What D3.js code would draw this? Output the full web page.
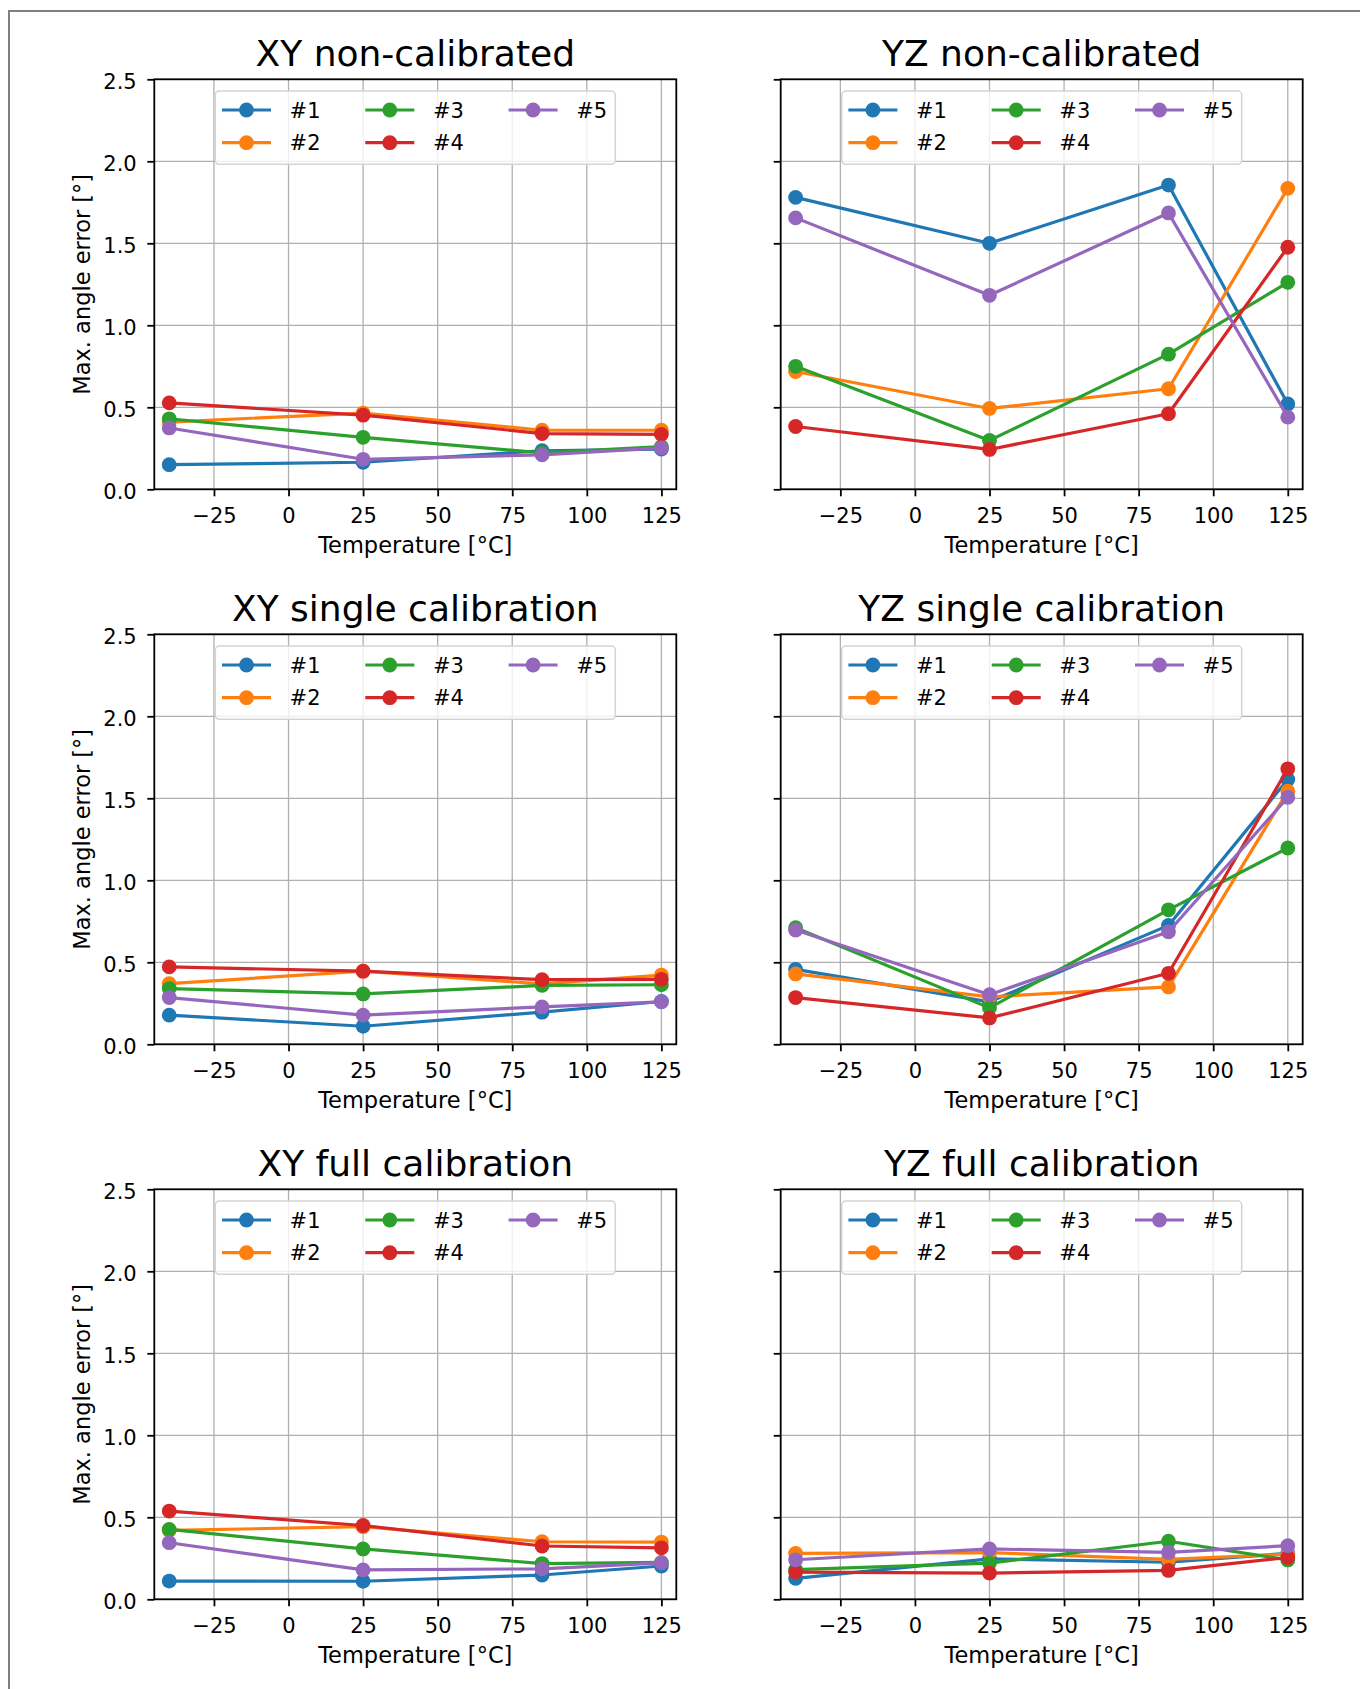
<!DOCTYPE html>
<html>
<head>
<meta charset="utf-8">
<script src="https://cdn.jsdelivr.net/npm/d3@7"></script>
<style>
  body { margin: 0; background: #fff; }
  svg { display: block; font-family: "DejaVu Sans", sans-serif; }
</style>
</head>
<body>
<div class="canvas"></div>
<script>
// temperatures measured and sensor names
const temps = [-40, 25, 85, 125];
const sensors = ["#1", "#2", "#3", "#4", "#5"];
const colors = ["#1f77b4", "#ff7f0e", "#2ca02c", "#d62728", "#9467bd"];
const xTicks = [-25, 0, 25, 50, 75, 100, 125];
const yTicks = [0, 0.5, 1.0, 1.5, 2.0, 2.5];
const titles = ["XY non-calibrated", "YZ non-calibrated", "XY single calibration",
  "YZ single calibration", "XY full calibration", "YZ full calibration"];

// max angle error per sensor (rows = #1..#5, cols = temps)
const xyNonCal = [
  [0.15, 0.165, 0.235, 0.245],
  [0.41, 0.465, 0.36, 0.36],
  [0.43, 0.317, 0.222, 0.26],
  [0.527, 0.452, 0.34, 0.335],
  [0.374, 0.183, 0.21, 0.252]
];
const yzNonCal = [
  [1.78, 1.50, 1.855, 0.52],
  [0.718, 0.493, 0.613, 1.835],
  [0.75, 0.298, 0.824, 1.262],
  [0.383, 0.243, 0.461, 1.476],
  [1.655, 1.183, 1.685, 0.44]
];
const xySingle = [
  [0.178, 0.11, 0.196, 0.261],
  [0.37, 0.446, 0.368, 0.422],
  [0.34, 0.307, 0.359, 0.363],
  [0.472, 0.446, 0.394, 0.396],
  [0.285, 0.178, 0.228, 0.259]
];
const yzSingle = [
  [0.457, 0.259, 0.725, 1.614],
  [0.429, 0.289, 0.350, 1.543],
  [0.711, 0.222, 0.82, 1.197],
  [0.285, 0.161, 0.433, 1.68],
  [0.697, 0.302, 0.686, 1.506]
];
const xyFull = [
  [0.111, 0.11, 0.148, 0.203],
  [0.42, 0.443, 0.351, 0.349],
  [0.426, 0.307, 0.218, 0.225],
  [0.538, 0.45, 0.325, 0.314],
  [0.345, 0.179, 0.186, 0.222]
];
const yzFull = [
  [0.128, 0.247, 0.226, 0.28],
  [0.28, 0.285, 0.243, 0.275],
  [0.181, 0.221, 0.354, 0.24],
  [0.166, 0.16, 0.176, 0.255],
  [0.241, 0.307, 0.286, 0.327]
];

const panelData = [xyNonCal, yzNonCal, xySingle, yzSingle, xyFull, yzFull];

var width = 1360,
   height = 1689;

var axW = 522, axH = 410;
var colX = [154.3, 780.7];
var rowY = [79.3, 634.3, 1189.3];
var font = '"DejaVu Sans", sans-serif';

const svg = d3.select('.canvas')
   .append('svg')
   .attr('width', width)
   .attr('height', height);

svg.append('rect').attr('width', width).attr('height', height).attr('fill', '#fff');

// outer frame (runs off the right and bottom edge)
svg.append('path')
   .attr('d', `M9,${height} V11 H${width}`)
   .attr('fill', 'none')
   .attr('stroke', '#808080')
   .attr('stroke-width', 2);

var x = d3.scaleLinear().domain([-45, 130]).range([0, axW]);
var y = d3.scaleLinear().domain([0, 2.5]).range([axH, 0]);

var line = d3.line()
   .x((d, i) => x(temps[i]))
   .y(d => y(d));

panelData.forEach((data, p) => {
   var col = p % 2, row = Math.floor(p / 2);
   var g = svg.append('g')
      .attr('transform', `translate(${colX[col]},${rowY[row]})`);

   // grid
   g.append('g').selectAll('line')
      .data(xTicks).enter().append('line')
         .attr('x1', d => x(d)).attr('x2', d => x(d))
         .attr('y1', 0).attr('y2', axH)
         .attr('stroke', '#b0b0b0').attr('stroke-width', 1.3);
   g.append('g').selectAll('line')
      .data(yTicks).enter().append('line')
         .attr('y1', d => y(d)).attr('y2', d => y(d))
         .attr('x1', 0).attr('x2', axW)
         .attr('stroke', '#b0b0b0').attr('stroke-width', 1.3);

   // series
   data.forEach((vals, s) => {
      var sg = g.append('g');
      sg.append('path')
         .attr('d', line(vals))
         .attr('fill', 'none')
         .attr('stroke', colors[s])
         .attr('stroke-width', 3.2)
         .attr('stroke-linejoin', 'round');
      sg.selectAll('circle')
         .data(vals).enter().append('circle')
            .attr('cx', (d, i) => x(temps[i]))
            .attr('cy', d => y(d))
            .attr('r', 7.4)
            .attr('fill', colors[s]);
   });

   // axes
   var xAxis = g.append('g')
      .attr('transform', `translate(0,${axH})`)
      .call(d3.axisBottom(x).tickValues(xTicks).tickSize(7).tickSizeOuter(0));
   xAxis.selectAll('text')
      .attr('y', 34).attr('dy', null);

   var yAxis = g.append('g')
      .call(d3.axisLeft(y).tickValues(yTicks).tickSize(7).tickSizeOuter(0)
         .tickFormat(d3.format('.1f')));
   yAxis.selectAll('text')
      .attr('x', -17.6).attr('y', 9.3).attr('dy', null);
   if (col === 1) yAxis.selectAll('text').remove();

   [xAxis, yAxis].forEach(a => {
      a.attr('font-family', font).attr('font-size', 21);
      a.selectAll('text').attr('fill', '#000');
      a.select('.domain').remove();
      a.selectAll('line').attr('stroke', '#000').attr('stroke-width', 1.8);
   });

   // spines
   g.append('rect')
      .attr('width', axW).attr('height', axH)
      .attr('fill', 'none').attr('stroke', '#000').attr('stroke-width', 1.8);

   // legend
   var lw = 400, lh = 73.3;
   var lg = g.append('g')
      .attr('transform', `translate(${(axW - lw) / 2},11.7)`);
   lg.append('rect')
      .attr('width', lw).attr('height', lh)
      .attr('rx', 4).attr('ry', 4)
      .attr('fill', 'rgba(255,255,255,0.8)')
      .attr('stroke', '#d4d4d4').attr('stroke-width', 1.5);
   sensors.forEach((name, s) => {
      var lx = 6.7 + Math.floor(s / 2) * 143.3;
      var ly = s % 2 === 0 ? 19 : 51.7;
      lg.append('line')
         .attr('x1', lx).attr('x2', lx + 49)
         .attr('y1', ly).attr('y2', ly)
         .attr('stroke', colors[s]).attr('stroke-width', 3.2);
      lg.append('circle')
         .attr('cx', lx + 24.5).attr('cy', ly).attr('r', 7.4)
         .attr('fill', colors[s]);
      lg.append('text')
         .attr('x', lx + 67.6).attr('y', ly + 7.7)
         .style('font-size', '21px')
         .text(name);
   });

   // title
   g.append('text')
      .attr('x', axW / 2).attr('y', -13.6)
      .attr('text-anchor', 'middle')
      .style('font-size', '36px')
      .text(titles[p]);

   // axis labels
   g.append('text')
      .attr('x', axW / 2).attr('y', axH + 64)
      .attr('text-anchor', 'middle')
      .style('font-size', '22.5px')
      .text('Temperature [°C]');
   if (col === 0) {
      g.append('text')
         .attr('transform', `translate(${90 - colX[0]},${axH / 2}) rotate(-90)`)
         .attr('text-anchor', 'middle')
         .style('font-size', '22.5px')
         .text('Max. angle error [°]');
   }
});
</script>
</body>
</html>
